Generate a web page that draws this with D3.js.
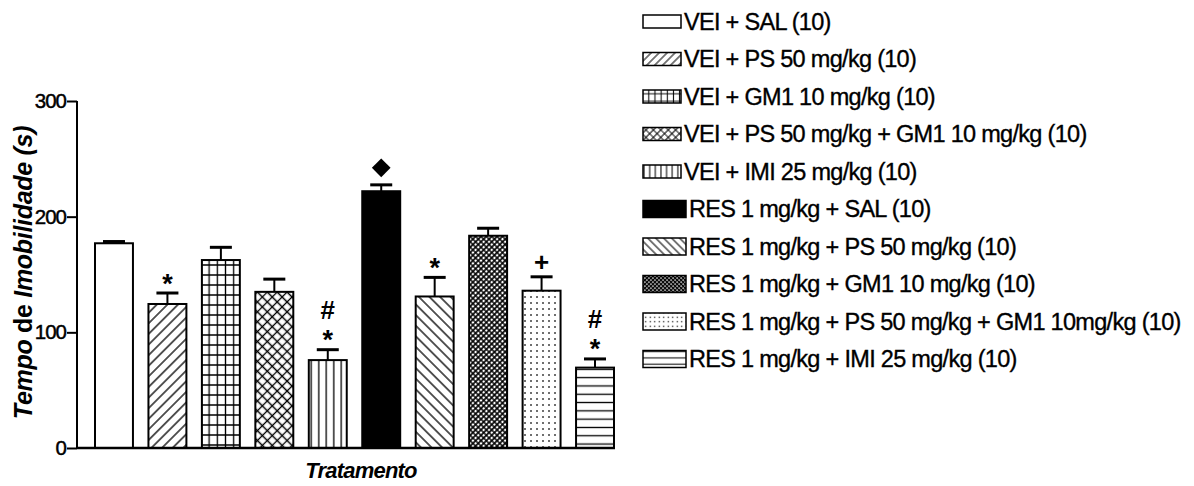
<!DOCTYPE html>
<html>
<head>
<meta charset="utf-8">
<script src="https://cdn.jsdelivr.net/npm/d3@7"></script>
<style>
  html, body { margin: 0; padding: 0; background: #fff; }
  svg { display: block; }
</style>
</head>
<body>
<div id="chart"></div>
<script>
// Treatment groups (legend order = bar order)
const groups = [
  "VEI + SAL (10)",
  "VEI + PS 50 mg/kg (10)",
  "VEI + GM1 10 mg/kg (10)",
  "VEI + PS 50 mg/kg + GM1 10 mg/kg (10)",
  "VEI + IMI 25 mg/kg (10)",
  "RES 1 mg/kg + SAL (10)",
  "RES 1 mg/kg + PS 50 mg/kg (10)",
  "RES 1 mg/kg + GM1 10 mg/kg (10)",
  "RES 1 mg/kg + PS 50 mg/kg + GM1 10mg/kg (10)",
  "RES 1 mg/kg + IMI 25 mg/kg (10)"
];
// Mean immobility time (s) and SEM
const means = [177, 124.5, 162.5, 135, 76, 222, 131, 183.5, 136, 69.5];
const sems  = [1.5, 9.5, 11, 11, 9, 5.5, 16.5, 6.5, 12, 7.5];
// Fill pattern for each group
const fills = ["none", "diagUp", "grid", "cross", "vert", "solid", "diagDown", "denseCross", "dots", "horiz"];
// Significance marks above each bar (bottom to top)
const marks = [[], ["*"], [], [], ["*", "#"], ["diamond"], ["*"], [], ["+"], ["*", "#"]];
// Axis ticks
const yTicks = [0, 100, 200, 300];

const W = 1194, H = 486;
const FONT = "Liberation Sans, Arial, sans-serif";
const svg = d3.select("#chart").append("svg").attr("width", W).attr("height", H);
const defs = svg.append("defs");

// Pattern builder; k scales the motif (smaller for legend swatches)
function makePattern(id, type, k) {
  const p = defs.append("pattern").attr("id", id).attr("patternUnits", "userSpaceOnUse");
  const sw = 1.3 * Math.max(k, 0.8);
  if (type === "diagUp" || type === "diagDown" || type === "vert") {
    const s = 7.5 * k;
    p.attr("width", s).attr("height", s);
    if (type !== "vert") p.attr("patternTransform", `rotate(${type === "diagUp" ? 45 : -45})`);
    p.append("rect").attr("width", s).attr("height", s).attr("fill", "#fff");
    p.append("line").attr("x1", s / 2).attr("x2", s / 2).attr("y1", 0).attr("y2", s)
      .attr("stroke", "#000").attr("stroke-width", sw);
  } else if (type === "horiz") {
    const s = 8.3 * k;
    p.attr("width", s).attr("height", s);
    p.append("rect").attr("width", s).attr("height", s).attr("fill", "#fff");
    p.append("line").attr("x1", 0).attr("x2", s).attr("y1", s / 2).attr("y2", s / 2)
      .attr("stroke", "#000").attr("stroke-width", sw);
  } else if (type === "grid") {
    const sx = 8.2 * k, sy = 10 * k;
    p.attr("width", sx).attr("height", sy);
    p.append("rect").attr("width", sx).attr("height", sy).attr("fill", "#fff");
    p.append("path").attr("d", `M${sx / 2},0V${sy}M0,${sy / 2}H${sx}`)
      .attr("stroke", "#000").attr("stroke-width", sw).attr("fill", "none");
  } else if (type === "cross" || type === "denseCross") {
    const s = (type === "cross" ? 7 : 3.8) * k;
    const w = type === "cross" ? sw : 1.6 * Math.max(k, 0.8);
    p.attr("width", s).attr("height", s).attr("patternTransform", "rotate(45)");
    p.append("rect").attr("width", s).attr("height", s).attr("fill", "#fff");
    p.append("path").attr("d", `M${s / 2},0V${s}M0,${s / 2}H${s}`)
      .attr("stroke", "#000").attr("stroke-width", w).attr("fill", "none");
  } else if (type === "dots") {
    const s = 6 * k;
    p.attr("width", s).attr("height", s);
    p.append("rect").attr("width", s).attr("height", s).attr("fill", "#fff");
    const d = 1.5 * Math.max(k, 0.8);
    p.append("rect").attr("x", s / 2 - d / 2).attr("y", s / 2 - d / 2)
      .attr("width", d).attr("height", d).attr("fill", "#000");
  }
}
const patTypes = ["diagUp", "diagDown", "vert", "horiz", "grid", "cross", "denseCross", "dots"];
patTypes.forEach(t => { makePattern("p-" + t, t, 1); makePattern("l-" + t, t, 0.75); });
function fillFor(type, prefix) {
  if (type === "none") return "#fff";
  if (type === "solid") return "#000";
  return `url(#${prefix}-${type})`;
}

// Scales
const x = d3.scaleBand().domain(groups).range([95, 614]).paddingInner(0.29).paddingOuter(0);
const y = d3.scaleLinear().domain([0, 300]).range([448, 101]);
const axisLeftX = 77, axisRightX = 615;

const g = svg.append("g");

// Bars
g.selectAll("rect.bar").data(groups).join("rect")
  .attr("class", "bar")
  .attr("x", d => x(d))
  .attr("y", (d, i) => y(means[i]))
  .attr("width", x.bandwidth())
  .attr("height", (d, i) => y(0) - y(means[i]))
  .attr("fill", (d, i) => fillFor(fills[i], "p"))
  .attr("stroke", "#000").attr("stroke-width", 2);

// Error bars (upper SEM)
const eb = g.selectAll("g.err").data(groups).join("g").attr("class", "err");
eb.append("line")
  .attr("x1", d => x(d) + x.bandwidth() / 2).attr("x2", d => x(d) + x.bandwidth() / 2)
  .attr("y1", (d, i) => y(means[i])).attr("y2", (d, i) => y(means[i] + sems[i]))
  .attr("stroke", "#000").attr("stroke-width", 2);
eb.append("line")
  .attr("x1", d => x(d) + x.bandwidth() / 2 - 11).attr("x2", d => x(d) + x.bandwidth() / 2 + 11)
  .attr("y1", (d, i) => y(means[i] + sems[i])).attr("y2", (d, i) => y(means[i] + sems[i]))
  .attr("stroke", "#000").attr("stroke-width", 3);

// Significance marks
groups.forEach((d, i) => {
  const cx = x(d) + x.bandwidth() / 2;
  const capY = y(means[i] + sems[i]);
  marks[i].forEach((m, j) => {
    const cy = capY - 14 - j * 26;
    if (m === "diamond") {
      g.append("path")
        .attr("d", d3.symbol(d3.symbolSquare, 175)())
        .attr("transform", `translate(${cx},${capY - 17}) rotate(45)`)
        .attr("fill", "#000");
    } else {
      const fs = m === "*" ? 27 : 26;
      const base = m === "*" ? cy + 0.5 * fs : (m === "#" ? cy + 0.36 * fs : cy + 0.33 * fs);
      g.append("text").attr("x", cx).attr("y", base)
        .attr("text-anchor", "middle")
        .attr("font-family", FONT)
        .attr("font-weight", "bold").attr("font-size", fs)
        .text(m);
    }
  });
});

// Y axis
const yAxis = d3.axisLeft(y).tickValues(yTicks).tickSize(10).tickPadding(1).tickFormat(d3.format("d"));
const ya = svg.append("g").attr("transform", `translate(${axisLeftX},0)`).call(yAxis);
ya.select(".domain").attr("stroke", "#000").attr("stroke-width", 2).attr("d", `M0,${y(300)}V${y(0)}`);
ya.selectAll(".tick line").attr("stroke", "#000").attr("stroke-width", 2);
ya.selectAll(".tick text").attr("font-family", FONT)
  .attr("font-size", 20.5).attr("fill", "#000").attr("letter-spacing", -1)
  .attr("stroke", "#000").attr("stroke-width", 0.45);

// X axis baseline
svg.append("line").attr("x1", axisLeftX).attr("x2", axisRightX)
  .attr("y1", y(0)).attr("y2", y(0)).attr("stroke", "#000").attr("stroke-width", 2.5);

// Axis titles
const yt = svg.append("text")
  .attr("transform", `translate(32,${(y(300) + y(0)) / 2 - 2}) rotate(-90)`)
  .attr("text-anchor", "middle")
  .attr("font-family", FONT)
  .attr("font-weight", "bold").attr("font-size", 25).attr("letter-spacing", -0.3);
yt.append("tspan").attr("font-style", "italic").text("Tempo ");
yt.append("tspan").text("de ");
yt.append("tspan").attr("font-style", "italic").text("Imobilidade (s)");

svg.append("text").attr("x", 361).attr("y", 478)
  .attr("text-anchor", "middle")
  .attr("font-family", FONT)
  .attr("font-weight", "bold").attr("font-style", "italic").attr("font-size", 22)
  .attr("letter-spacing", -0.8)
  .text("Tratamento");

// Legend: VEI rows use a smaller swatch than RES rows
const leg = svg.append("g");
const rowY = i => 21.5 + i * 37.5;
groups.forEach((d, i) => {
  const big = i >= 5;
  const sw = big ? 43 : 38, sh = big ? 17 : 13;
  leg.append("rect").attr("x", 643).attr("y", rowY(i) - sh / 2).attr("width", sw).attr("height", sh)
    .attr("fill", fillFor(fills[i], "l")).attr("stroke", "#000").attr("stroke-width", 1.5);
  leg.append("text").attr("x", big ? 689 : 684).attr("y", rowY(i) + 8)
    .attr("font-family", FONT)
    .attr("font-size", 23.5).attr("letter-spacing", -0.7)
    .attr("stroke", "#000").attr("stroke-width", 0.35)
    .text(d);
});
</script>
</body>
</html>
